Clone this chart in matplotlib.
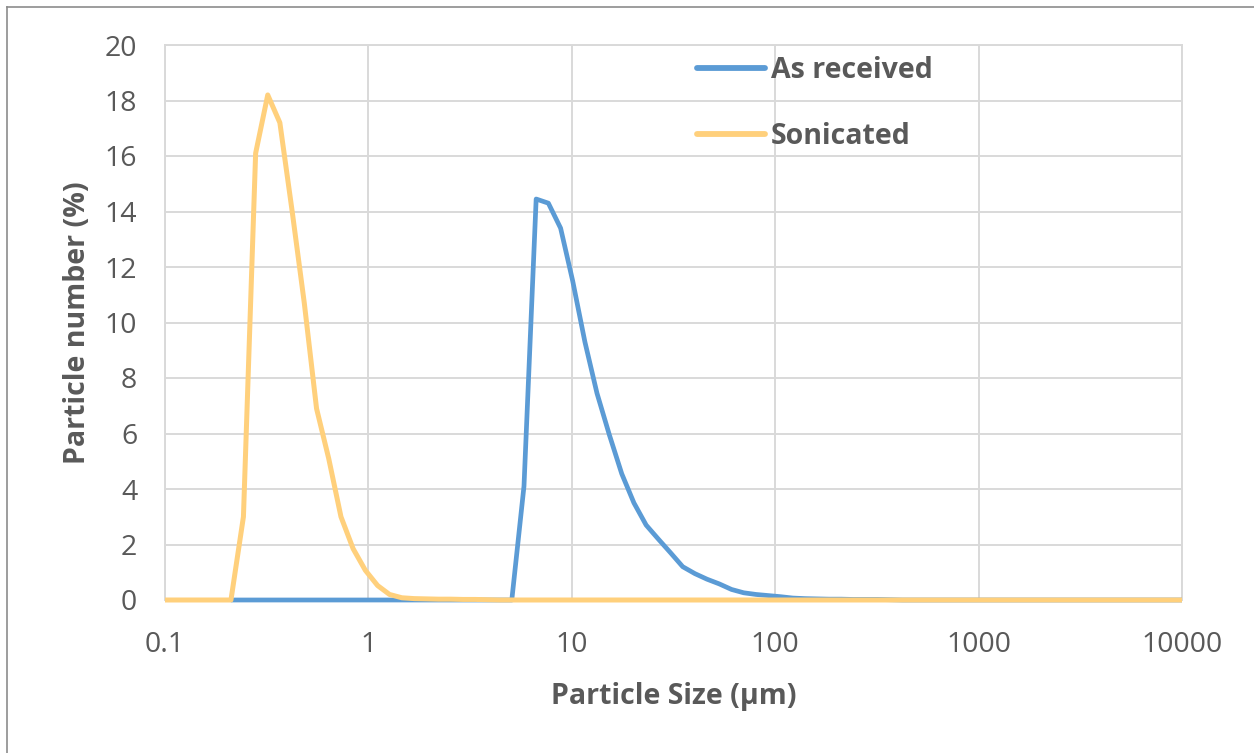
import matplotlib
matplotlib.use("Agg")
import matplotlib.pyplot as plt
from matplotlib.lines import Line2D

# Particle size bins (µm) and particle number distributions (%)
size_as_received = [0.211, 5.07, 5.82, 6.68, 7.67, 8.81, 10.1, 11.6, 13.3, 15.3,
                    17.6, 20.2, 23.2, 26.6, 30.6, 35.1, 40.3, 46.2, 53.1, 61.0,
                    70.0, 80.4, 92.3, 106, 122, 140, 160, 184, 211, 243, 279,
                    320, 367, 422, 10000]
as_received = [0, 0, 4.1, 14.45, 14.3, 13.4, 11.5, 9.3, 7.45, 5.95,
               4.55, 3.5, 2.7, 2.2, 1.7, 1.2, 0.95, 0.75, 0.58, 0.38,
               0.26, 0.2, 0.16, 0.12, 0.07, 0.05, 0.04, 0.03, 0.03, 0.02, 0.02,
               0.02, 0.01, 0, 0]

size_sonicated = [0.1, 0.211, 0.243, 0.279, 0.320, 0.367, 0.422, 0.484, 0.556,
                  0.638, 0.733, 0.841, 0.966, 1.11, 1.27, 1.46, 1.68, 1.93, 2.21,
                  2.54, 2.92, 3.35, 3.85, 4.42, 10000]
sonicated = [0, 0, 3.0, 16.1, 18.2, 17.2, 14.0, 10.7, 6.9,
             5.1, 3.0, 1.85, 1.07, 0.52, 0.2, 0.08, 0.05, 0.04, 0.03,
             0.03, 0.02, 0.02, 0.01, 0, 0]

x_ticks = [0.1, 1, 10, 100, 1000, 10000]
x_tick_labels = ["0.1", "1", "10", "100", "1000", "10000"]
y_ticks = list(range(0, 21, 2))

plt.rcParams["font.family"] = ["Open Sans", "DejaVu Sans"]
TEXT = "#595959"
GRID = "#D9D9D9"

fig = plt.figure(figsize=(12.54, 7.53), dpi=100)
ax = fig.add_axes([165 / 1254, 1 - 600 / 753, (1182 - 165) / 1254, (600 - 45) / 753])

ax.plot(size_as_received, as_received, color="#5B9BD5", lw=3.4, zorder=3, clip_on=False,
        solid_joinstyle="round", solid_capstyle="butt", label="As received")
ax.plot(size_sonicated, sonicated, color="#FFD07C", lw=3.6, zorder=4, clip_on=False,
        solid_joinstyle="round", solid_capstyle="butt", label="Sonicated")

ax.set_xscale("log")
ax.set_xlim(0.1, 10000)
ax.set_ylim(0, 20)
ax.set_xticks(x_ticks)
ax.set_xticklabels(x_tick_labels)
ax.xaxis.set_minor_locator(matplotlib.ticker.NullLocator())
ax.set_yticks(y_ticks)

ax.grid(True, which="major", color=GRID, lw=1.4)
ax.set_axisbelow(True)
for sp in ax.spines.values():
    sp.set_color(GRID)
    sp.set_linewidth(1.4)
    sp.set_zorder(1)

ax.tick_params(axis="both", length=0, labelsize=20.5, colors=TEXT)
ax.tick_params(axis="x", pad=22)
ax.tick_params(axis="y", pad=20)

ax.set_xlabel("Particle Size (µm)", fontsize=20.5, fontweight="bold", color=TEXT, labelpad=17)
ax.set_ylabel("Particle number (%)", fontsize=20.5, fontweight="bold", color=TEXT, labelpad=9)

leg = ax.legend(loc="upper left", bbox_to_anchor=(0.523, 0.98), frameon=False,
                handlelength=2.4, handletextpad=0.2, labelspacing=1.28,
                borderpad=0, borderaxespad=0,
                prop={"size": 20.5, "weight": "bold"})
for t in leg.get_texts():
    t.set_color(TEXT)
for h in leg.legend_handles:
    h.set_linewidth(4.2)
    h.set_solid_capstyle("round")

# Outer frame (top and left edges)
fig.add_artist(Line2D([7 / 1254, 1], [1 - 7 / 753, 1 - 7 / 753],
                      transform=fig.transFigure, color="#8C8C8C", lw=1.2))
fig.add_artist(Line2D([7 / 1254, 7 / 1254], [0, 1 - 7 / 753],
                      transform=fig.transFigure, color="#8C8C8C", lw=1.2))

fig.savefig("out.png", dpi=100, facecolor="white")
